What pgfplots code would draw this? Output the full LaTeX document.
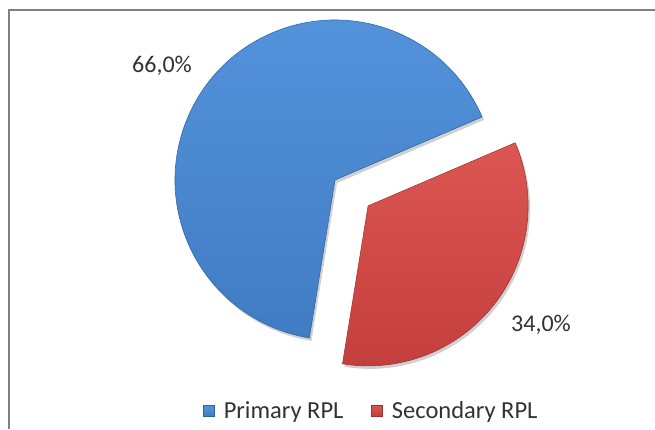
\documentclass[border=0pt]{standalone}
\usepackage{pgfplots}
\usepackage{pgfplotstable}
\pgfplotsset{compat=1.18}
\usepackage{fontspec}
\setmainfont{Carlito}
\definecolor{bluetop}{RGB}{84,148,220}
\definecolor{bluebot}{RGB}{64,124,196}
\definecolor{redtop}{RGB}{220,86,82}
\definecolor{redbot}{RGB}{194,62,60}
\definecolor{txt}{RGB}{50,50,50}
\definecolor{frame}{RGB}{128,128,128}
\pgfplotstableread{
label value
Primary 66.0
Secondary 34.0
}\piedata

\begin{document}
\begin{tikzpicture}
\pgfplotstablegetelem{0}{value}\of\piedata \let\va\pgfplotsretval
\pgfplotstablegetelem{1}{value}\of\piedata \let\vb\pgfplotsretval
\pgfmathsetmacro\startA{23.2}
\pgfmathsetmacro\endA{\startA+3.6*\va}
\pgfmathsetmacro\endB{\endA+3.6*\vb}
\pgfmathsetmacro\midB{(\endA+\endB)/2}
\pgfmathsetmacro\rx{335+42*cos(\midB)}
\pgfmathsetmacro\ry{249+42*sin(\midB)}
\begin{axis}[
  x=1pt, y=1pt, xmin=0, xmax=655, ymin=0, ymax=429,
  hide axis, clip=false, scale only axis,
  legend columns=2,
  legend cell align=left,
  legend image code/.code={\path[#1] (0pt,-5.5pt) rectangle (11pt,5.5pt);},
  legend style={at={(0.567,0.042)}, anchor=center, draw=none, fill=none,
    font=\fontsize{24.5}{28}\selectfont\color{txt},
    /tikz/every odd column/.append style={column sep=7pt},
    /tikz/every even column/.append style={column sep=26pt}},
]
\addlegendimage{top color=bluetop, bottom color=bluebot, draw=bluebot!80!black, line width=0.5pt}
\addlegendentry{Primary RPL}
\addlegendimage{top color=redtop, bottom color=redbot, draw=redbot!80!black, line width=0.5pt}
\addlegendentry{Secondary RPL}

\coordinate (ll) at (axis cs:0,0);
\coordinate (ur) at (axis cs:655,429);
% shadows
\fill[black, opacity=0.18] (axis cs:337,246) -- ++(\startA:160pt) arc[start angle=\startA, end angle=\endA, radius=160pt] -- cycle;
\fill[black, opacity=0.18] (axis cs:\rx+2,\ry-3) -- ++(\endA:160pt) arc[start angle=\endA, end angle=\endB, radius=160pt] -- cycle;
% slices
\shade[top color=bluetop, bottom color=bluebot, draw=bluebot!85!black, line width=0.6pt]
  (axis cs:335,249) -- ++(\startA:160pt) arc[start angle=\startA, end angle=\endA, radius=160pt] -- cycle;
\shade[top color=redtop, bottom color=redbot, draw=redbot!85!black, line width=0.6pt]
  (axis cs:\rx,\ry) -- ++(\endA:160pt) arc[start angle=\endA, end angle=\endB, radius=160pt] -- cycle;
% labels
\node[text=txt, font=\fontsize{24}{28}\selectfont] at (axis cs:162,363)
  {\pgfmathprintnumber[use comma,fixed,fixed zerofill,precision=1,assume math mode=true]{\va}\%};
\node[text=txt, font=\fontsize{24}{28}\selectfont] at (axis cs:541,104.5)
  {\pgfmathprintnumber[use comma,fixed,fixed zerofill,precision=1,assume math mode=true]{\vb}\%};
% frame
\draw[frame, line width=1.3pt] (axis cs:9,0) -- (axis cs:9,419) -- (axis cs:655,419);
\end{axis}
\pgfresetboundingbox
\useasboundingbox (ll) rectangle (ur);
\end{tikzpicture}
\end{document}
